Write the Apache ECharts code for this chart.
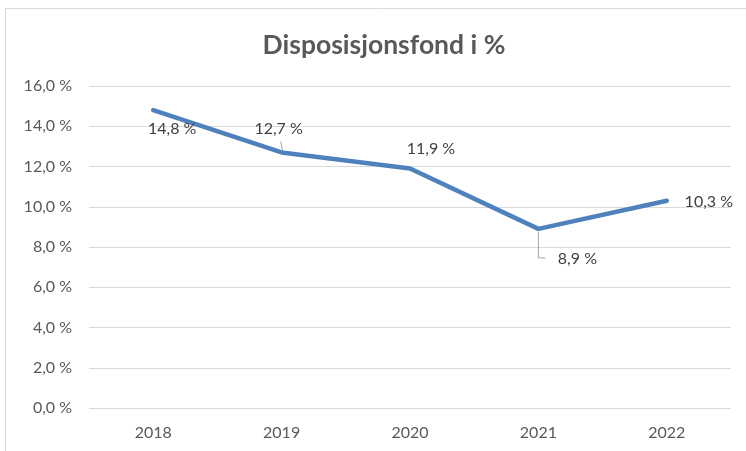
<!DOCTYPE html>
<html><head><meta charset="utf-8">
<script src="https://cdn.jsdelivr.net/npm/echarts@6/dist/echarts.min.js"></script>
<style>html,body{margin:0;padding:0;background:#fff}#c{width:746px;height:451px}</style>
</head><body><div id="c"></div>
<script>
const titleText = 'Disposisjonsfond i %';
const years = ['2018', '2019', '2020', '2021', '2022'];
const values = [14.8, 12.7, 11.9, 8.9, 10.3];
const yTicks = [0, 2, 4, 6, 8, 10, 12, 14, 16];
const labelShift = [[19, 19], [-3, -24], [21, -20], [39, 30], [42, 1]];

const fmt = v => v.toFixed(1).replace('.', ',') + ' %';
const chart = echarts.init(document.getElementById('c'));
chart.setOption({
  animation: false,
  graphic: [{type: 'rect', shape: {x: 5.5, y: 8.5, width: 900, height: 600}, style: {fill: 'none', stroke: '#d9d9d9', lineWidth: 1}}],
  title: {text: titleText, left: 379, top: 27, textAlign: 'center',
    textStyle: {fontFamily: 'Lato', fontWeight: 'bold', fontSize: 26.5, color: '#595959'}},
  grid: {left: 89, right: 15, top: 86, bottom: 43},
  xAxis: {type: 'category', data: years, boundaryGap: true,
    axisLine: {show: false}, axisTick: {show: false},
    axisLabel: {fontFamily: 'Lato', fontSize: 16, color: '#595959', margin: 17}},
  yAxis: {type: 'value', min: yTicks[0], max: yTicks[yTicks.length - 1], interval: 2,
    axisLine: {show: false}, axisTick: {show: false},
    splitLine: {lineStyle: {color: '#d9d9d9', width: 1}},
    axisLabel: {fontFamily: 'Lato', fontSize: 16, color: '#595959', margin: 17, formatter: v => fmt(v)}},
  series: [{
    type: 'line',
    data: values,
    showSymbol: true, symbol: 'circle', symbolSize: 0,
    itemStyle: {color: '#4f81bd'},
    lineStyle: {color: '#4f81bd', width: 4.5, cap: 'round', join: 'round'},
    label: {show: true, position: 'inside', fontFamily: 'Lato', fontSize: 16, color: '#404040',
      formatter: p => fmt(p.value)},
    labelLayout: p => ({dx: labelShift[p.dataIndex][0], dy: labelShift[p.dataIndex][1]})
  }]
});
// leader lines anchored to the data points through the chart's own scales
const p19 = chart.convertToPixel({seriesIndex: 0}, [1, values[1]]);
const p21 = chart.convertToPixel({seriesIndex: 0}, [3, values[3]]);
chart.setOption({graphic: [
  {type: 'rect', shape: {x: 5.5, y: 8.5, width: 900, height: 600}, style: {fill: 'none', stroke: '#d9d9d9', lineWidth: 1}},
  {type: 'polyline', shape: {points: [[p19[0] - 1, p19[1] - 11], [p19[0] + 1, p19[1] - 2]]}, style: {stroke: '#a6a6a6', lineWidth: 1, fill: 'none'}, z: 1},
  {type: 'polyline', shape: {points: [[p21[0], p21[1] + 3], [p21[0], p21[1] + 29], [p21[0] + 7, p21[1] + 29]]}, style: {stroke: '#a6a6a6', lineWidth: 1, fill: 'none'}, z: 1}
]});
</script></body></html>
